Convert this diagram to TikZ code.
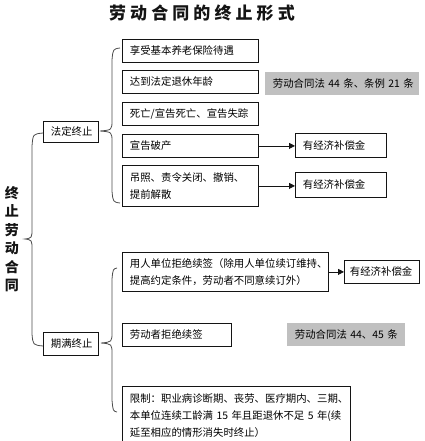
\documentclass[tikz,border=0pt]{standalone}
\usepackage{fontspec}
\setmainfont{Noto Sans CJK SC}
\newfontfamily\cjk{Noto Sans CJK SC}
\newfontfamily\cjktitle[LetterSpace=24]{Noto Sans CJK SC}
\usetikzlibrary{arrows.meta}
\definecolor{boxgray}{RGB}{192,192,192}
\definecolor{ink}{RGB}{20,20,20}
\begin{document}
\begin{tikzpicture}[x=1pt,y=-1pt,
  box/.style={draw=ink, line width=0.8pt, fill=white, anchor=north west,
    inner xsep=7.5pt, inner ysep=0pt, align=left, text=black,
    font=\cjk\fontsize{10.4}{17}\selectfont},
  graybox/.style={box, draw=none, fill=boxgray},
  arr/.style={draw=ink, line width=0.8pt, -{Triangle[length=6pt,width=6pt]}},
  bracestyle/.style={draw=black!70, line width=0.8pt}]
\useasboundingbox (0,0) rectangle (424,441);

\node[text=ink, font=\cjktitle\bfseries\fontsize{17}{19}\selectfont] (title) at (202,13) {劳动合同的终止形式};

\node[text=ink, align=center, font=\cjk\bfseries\fontsize{14}{18.5}\selectfont] (side) at (12,239) {终\\止\\劳\\动\\合\\同};

\node[box, text width=40pt, minimum height=21pt] (fd) at (43,121) {法定终止};
\node[box, text width=40pt, minimum height=23pt] (qm) at (43,332) {期满终止};

\node[box, text width=121pt, minimum height=23pt] (b1) at (122,39) {享受基本养老保险待遇};
\node[box, text width=121pt, minimum height=23pt] (b2) at (122,70) {达到法定退休年龄};
\node[box, text width=121pt, minimum height=23pt] (b3) at (122,102) {死亡/宣告死亡、宣告失踪};
\node[box, text width=121pt, minimum height=23pt] (b4) at (122,134) {宣告破产};
\node[box, text width=121pt, minimum height=41pt] (b5) at (122,165) {吊照、责令关闭、撤销、\\提前解散};

\node[graybox, text width=139pt, minimum height=23pt] (g1) at (265,72) {劳动合同法~44~条、条例~21~条};

\node[box, text width=76pt, minimum height=24pt] (c1) at (295,133) {有经济补偿金};
\node[box, text width=76pt, minimum height=25pt] (c2) at (295,172) {有经济补偿金};

\node[box, text width=191pt, minimum height=39pt] (b6) at (122,252) {用人单位拒绝续签（除用人单位续订维持、\\提高约定条件，劳动者不同意续订外）};
\node[box, text width=64pt, inner xsep=5.5pt, minimum height=23pt] (c3) at (344,260) {有经济补偿金};

\node[box, text width=94pt, minimum height=23pt] (b7) at (122,323) {劳动者拒绝续签};
\node[graybox, text width=103pt, minimum height=23pt] (g2) at (287,323) {劳动合同法~44、45~条};

\node[box, text width=213pt, minimum height=58pt] (b8) at (122,386) {限制：职业病诊断期、丧劳、医疗期内、三期、\\本单位连续工龄满~15~年且距退休不足~5~年(续\\延至相应的情形消失时终止）};

\draw[arr] (b4.east) -- (b4.east -| c1.west);
\draw[arr] (b5.east) -- (b5.east -| c2.west);
\draw[arr] (b6.east) -- (b6.east -| c3.west);

% big left brace
\draw[bracestyle] (43,133) .. controls (33,134) .. (32,146) -- (32,228)
  .. controls (32,238) .. (25,239) .. controls (32,240) .. (32,250)
  -- (32,334) .. controls (33,345) .. (43,346);
% upper brace
\draw[bracestyle] (120,48) .. controls (113,49) .. (112,60) -- (112,120)
  .. controls (112,130) .. (100,131) .. controls (112,132) .. (112,142)
  -- (112,191) .. controls (113,202) .. (120,203);
% lower brace
\draw[bracestyle] (117,268) .. controls (113,269) .. (112,279) -- (112,332)
  .. controls (112,342) .. (101,343) .. controls (112,344) .. (112,354)
  -- (112,400) .. controls (113,411) .. (117,412);
\end{tikzpicture}
\end{document}
